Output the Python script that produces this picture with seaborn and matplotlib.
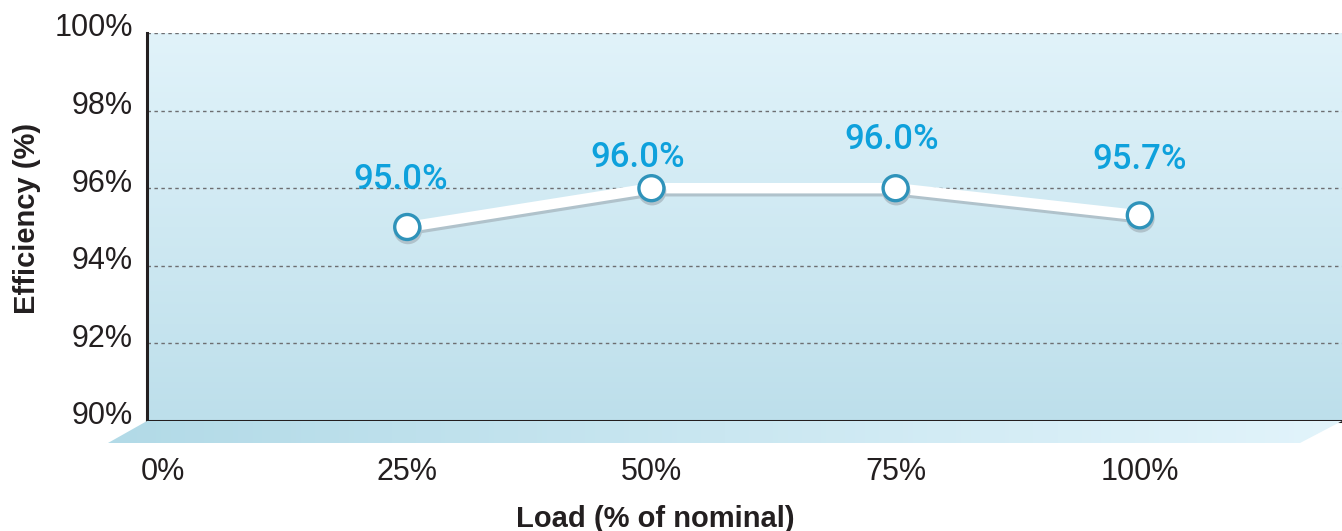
import numpy as np
import pandas as pd
import seaborn as sns
import matplotlib.pyplot as plt
import matplotlib.patheffects as pe
import matplotlib.transforms as mtransforms
from matplotlib.patches import Polygon
from matplotlib.colors import LinearSegmentedColormap

# data
load = [25, 50, 75, 100]
efficiency = [95.0, 96.0, 96.0, 95.3]
value_labels = ['95.0%', '96.0%', '96.0%', '95.7%']
x_ticks = [0, 25, 50, 75, 100]
x_tick_labels = ['0%', '25%', '50%', '75%', '100%']
y_ticks = [90, 92, 94, 96, 98, 100]
y_tick_labels = ['90%', '92%', '94%', '96%', '98%', '100%']

# label offsets (points) relative to each marker
label_dx = [-5, -10, -3, 0]
label_dy = [34, 22, 35, 40]

df = pd.DataFrame({'load': load, 'eff': efficiency})

sns.set_theme(style='white')
plt.rcParams['font.family'] = ['Liberation Sans', 'DejaVu Sans']
text_col = '#231f20'

fig = plt.figure(figsize=(13.42, 5.31), dpi=100)
ax = fig.add_axes([147 / 1342, 110 / 531, 1195 / 1342, 388 / 531])

# vertical background gradient
bg = LinearSegmentedColormap.from_list('bg', ['#bddfeb', '#e1f3fa'])
grad = np.linspace(0, 1, 256).reshape(-1, 1)
ax.imshow(grad, cmap=bg, origin='lower', aspect='auto',
          extent=[0, 1, 0, 1], transform=ax.transAxes, zorder=0)

sns.lineplot(data=df, x='load', y='eff', ax=ax, color='white', linewidth=7.5,
             marker='o', markersize=18, markerfacecolor='white',
             markeredgecolor='#2f93ba', markeredgewidth=2.4, zorder=5,
             path_effects=[pe.SimpleLineShadow(offset=(0.5, -2.2), shadow_color='#b0c2cb', alpha=1),
                           pe.Normal()])

for x, y, t, dx, dy in zip(load, efficiency, value_labels, label_dx, label_dy):
    ax.annotate(t, (x, y), xytext=(dx, dy), textcoords='offset points',
                ha='center', va='center', fontsize=25, color='#0ea1dc',
                family=['Roboto', 'DejaVu Sans'], fontweight='medium', zorder=6)

ax.set_xlim(-1.64, 120.7)
ax.set_ylim(90, 100)
ax.set_xticks(x_ticks)
ax.set_xticklabels(x_tick_labels)
ax.set_yticks(y_ticks)
ax.set_yticklabels(y_tick_labels)
ax.tick_params(axis='both', length=0, labelsize=22, colors=text_col)
ax.tick_params(axis='x', pad=26)
ax.tick_params(axis='y', pad=10)
shift = mtransforms.ScaledTranslation(0, 8 / 100, fig.dpi_scale_trans)
for lab in ax.get_yticklabels():
    lab.set_transform(lab.get_transform() + shift)

ax.yaxis.grid(True, linestyle=(0, (2.5, 2.5)), color='#6d6e71', linewidth=1)
ax.xaxis.grid(False)
ax.set_axisbelow(True)

for s in ['top', 'right']:
    ax.spines[s].set_visible(False)
for s in ['left', 'bottom']:
    ax.spines[s].set_color(text_col)
    ax.spines[s].set_linewidth(2.2)
    ax.spines[s].set_zorder(7)

ax.set_xlabel('Load (% of nominal)', fontsize=21, fontweight='bold', color=text_col)
ax.set_ylabel('Efficiency (%)', fontsize=21, fontweight='bold', color=text_col)
ax.xaxis.set_label_coords(0.425, -0.2165)
ax.yaxis.set_label_coords(-0.089, 0.523)

# floor strip under the plot
fx = fig.add_axes([108 / 1342, 88 / 531, 1234 / 1342, 22 / 531])
fx.set_xlim(0, 1)
fx.set_ylim(0, 1)
fx.axis('off')
floor = LinearSegmentedColormap.from_list('floor', ['#b2dae7', '#e2f4fb'])
im = fx.imshow(np.linspace(0, 1, 256).reshape(1, -1), cmap=floor, aspect='auto',
               extent=[0, 1, 0, 1], origin='lower')
poly = Polygon([(0, 0), (0.0316, 1), (1, 1), (0.966, 0)], closed=True,
               transform=fx.transData, facecolor='none', edgecolor='none')
fx.add_patch(poly)
im.set_clip_path(poly)

fig.savefig('out.png', dpi=100)
